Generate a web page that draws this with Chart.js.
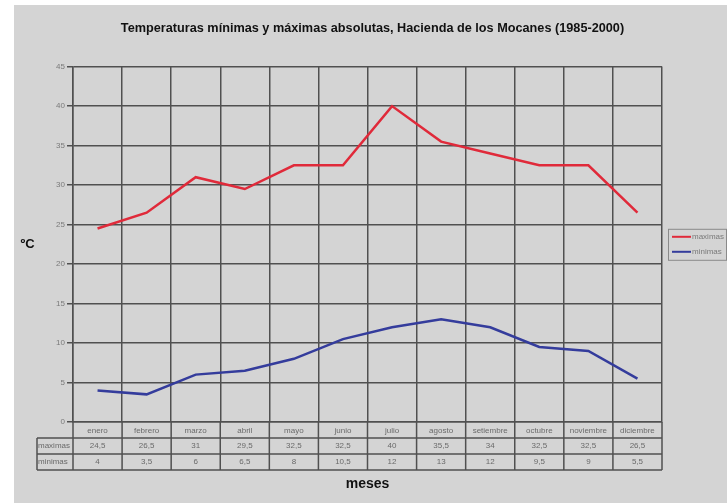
<!DOCTYPE html>
<html><head><meta charset="utf-8">
<script src="https://cdn.jsdelivr.net/npm/chart.js@4.4.1/dist/chart.umd.min.js"></script>
<style>
html,body{margin:0;padding:0;background:#fff;}
#wrap{position:absolute;left:14px;top:5px;width:713px;height:498px;background:#d4d4d4;}
canvas{display:block;}
</style></head><body>
<div id="wrap"><canvas id="c" width="713" height="498"></canvas></div>
<script>
const months = ['enero','febrero','marzo','abril','mayo','junio','julio','agosto','setiembre','octubre','noviembre','diciembre'];
const maximas = [24.5, 26.5, 31, 29.5, 32.5, 32.5, 40, 35.5, 34, 32.5, 32.5, 26.5];
const minimas = [4, 3.5, 6, 6.5, 8, 10.5, 12, 13, 12, 9.5, 9, 5.5];
const yMin = 0, yMax = 45, yStep = 5;
const titleText = 'Temperaturas mínimas y máximas absolutas, Hacienda de los Mocanes (1985-2000)';
const yTitle = 'ºC';
const xTitle = 'meses';

const FONT = '"Liberation Sans", Arial, sans-serif';
const GRID = '#505050';
const fmt = v => String(v).replace('.', ',');

const tablePlugin = {
  id: 'tablePlugin',
  afterDraw(chart) {
    const ctx = chart.ctx, ca = chart.chartArea;
    const n = months.length, w = (ca.right - ca.left) / n;
    const rowH = 16, labelW = 36;
    const y0 = ca.bottom, y1 = y0 + rowH, y2 = y1 + rowH, y3 = y2 + rowH;
    const lx = ca.left - labelW;
    ctx.save();
    // title
    ctx.font = 'bold 12.7px ' + FONT; ctx.fillStyle = '#111';
    ctx.textAlign = 'center'; ctx.textBaseline = 'middle';
    ctx.fillText(titleText, chart.width / 2 + 2, 23);
    // table
    ctx.strokeStyle = GRID; ctx.lineWidth = 1.5;
    ctx.beginPath();
    [y1, y2, y3].forEach(y => { ctx.moveTo(lx, y); ctx.lineTo(ca.right, y); });
    for (let i = 0; i <= n; i++) { const x = ca.left + i * w; ctx.moveTo(x, y0); ctx.lineTo(x, y3); }
    ctx.moveTo(lx, y1); ctx.lineTo(lx, y3);
    ctx.stroke();
    ctx.font = '8px ' + FONT; ctx.fillStyle = '#6a6a6a';
    ctx.textBaseline = 'middle';
    chart.data.datasets.forEach((ds, r) => {
      const yy = (r === 0 ? y1 : y2) + rowH / 2;
      ctx.textAlign = 'left';
      ctx.fillText(ds.label, lx + 1, yy);
      ctx.textAlign = 'center';
      ds.data.forEach((v, i) => ctx.fillText(fmt(v), chart.scales.x.getPixelForValue(i), yy));
    });
    // y axis title
    ctx.font = 'bold 13px ' + FONT; ctx.fillStyle = '#111';
    ctx.textAlign = 'center';
    ctx.fillText(yTitle, 13.5, (ca.top + ca.bottom) / 2);
    // legend
    const bx = ca.right + 6, bw = 58, bh = 31, by = (ca.top + ca.bottom) / 2 - bh / 2;
    ctx.strokeStyle = '#8a8a8a'; ctx.lineWidth = 1;
    ctx.strokeRect(bx + 0.5, by + 0.5, bw, bh);
    ctx.font = '8px ' + FONT;
    ctx.textAlign = 'left';
    chart.data.datasets.forEach((ds, r) => {
      const yy = by + 8 + r * 15;
      ctx.strokeStyle = ds.borderColor; ctx.lineWidth = 2;
      ctx.beginPath(); ctx.moveTo(bx + 4, yy); ctx.lineTo(bx + 23, yy); ctx.stroke();
      ctx.fillStyle = '#7a7a7a';
      ctx.fillText(ds.label, bx + 24, yy);
    });
    ctx.restore();
  }
};

new Chart(document.getElementById('c'), {
  type: 'line',
  data: {
    labels: months,
    datasets: [
      { label: 'maximas', data: maximas, borderColor: '#e02a3a', borderWidth: 2.5, pointRadius: 0, tension: 0, fill: false },
      { label: 'minimas', data: minimas, borderColor: '#343c9c', borderWidth: 2.5, pointRadius: 0, tension: 0, fill: false }
    ]
  },
  options: {
    responsive: false,
    animation: false,
    layout: { padding: { left: 0, right: 65, top: 61.6, bottom: 0 } },
    plugins: {
      legend: { display: false },
      tooltip: { enabled: false },
      title: { display: false }
    },
    scales: {
      x: {
        type: 'category', offset: true,
        grid: { offset: true, color: GRID, lineWidth: 1.5, drawTicks: false },
        border: { display: true, color: GRID, width: 1.5 },
        ticks: { color: '#6a6a6a', font: { family: FONT, size: 8 }, padding: 4, maxRotation: 0, autoSkip: false },
        title: { display: true, text: xTitle, color: '#111', font: { family: FONT, size: 14, weight: 'bold' }, padding: { top: 0, bottom: 10 } },
        afterFit(s) { s.height = 81; }
      },
      y: {
        min: yMin, max: yMax,
        grid: { color: GRID, lineWidth: 1.5, drawTicks: true, tickLength: 6, tickColor: GRID },
        border: { display: true, color: GRID, width: 1.5 },
        ticks: { stepSize: yStep, color: '#7a7a7a', font: { family: FONT, size: 8 }, padding: 2 },
        afterFit(s) { s.width = 59; }
      }
    }
  },
  plugins: [tablePlugin]
});
</script>
</body></html>
